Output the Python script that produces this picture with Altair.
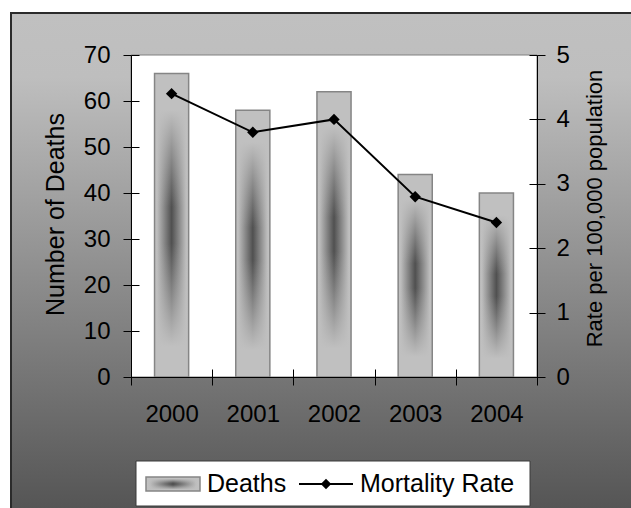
import altair as alt
import pandas as pd

# Values
years = ["2000", "2001", "2002", "2003", "2004"]
deaths = [66, 58, 62, 44, 40]
mortality_rate = [4.4, 3.8, 4.0, 2.8, 2.4]
legend_labels = ["Deaths", "Mortality Rate"]
death_ticks = [0, 10, 20, 30, 40, 50, 60, 70]
rate_ticks = [0, 1, 2, 3, 4, 5]

df = pd.DataFrame({"Year": years, "Deaths": deaths, "Rate": mortality_rate})
one = pd.DataFrame({"k": [0]})

W, H = 406, 322
FONT = "Liberation Sans"


def stops(pairs):
    return [alt.GradientStop(color=c, offset=o) for o, c in pairs]


# Grey page backdrop, light at the top and darker towards the bottom
page_fill = alt.LinearGradient(
    gradient="linear", x1=0, x2=0, y1=0, y2=1,
    stops=stops([(0, "#c0c0c0"), (0.13, "#bebebe"), (1, "#555555")]),
)
# Bar shading: dark core across the width, faded out towards top and bottom
bar_fill = alt.LinearGradient(
    gradient="linear", x1=0, x2=1, y1=0, y2=0,
    stops=stops([(0, "#c4c4c4"), (0.08, "#bcbcbc"), (0.5, "#505050"),
                 (0.92, "#bcbcbc"), (1, "#c4c4c4")]),
)
bar_shade = alt.LinearGradient(
    gradient="linear", x1=0, x2=0, y1=0, y2=1,
    stops=stops([(0, "rgba(192,192,192,1)"), (0.12, "rgba(192,192,192,1)"),
                 (0.44, "rgba(192,192,192,0)"), (0.56, "rgba(192,192,192,0)"),
                 (0.9, "rgba(192,192,192,1)"), (1, "rgba(192,192,192,1)")]),
)

backdrop = alt.Chart(one).mark_rect(
    fill=page_fill, stroke="#2b2b2b", strokeWidth=2
).encode(x=alt.value(-120), x2=alt.value(W + 140), y=alt.value(-42), y2=alt.value(H + 132))

panel = alt.Chart(one).mark_rect(
    fill="white", stroke="#808080", strokeWidth=1
).encode(x=alt.value(0), x2=alt.value(W), y=alt.value(0), y2=alt.value(H))

x_axis = alt.Axis(
    title=None, labelAngle=0, tickBand="extent", tickSize=8, labelFontSize=24,
    labelPadding=17, grid=True, gridColor="black", gridOpacity=1,
    gridDash=[0, H - 8, 8, 1000], orient="bottom", zindex=1,
)
left_axis = alt.Axis(
    values=death_ticks, orient="left", title="Number of Deaths",
    tickSize=8, labelFontSize=24, labelPadding=13,
    titleFontSize=25, titleFontWeight="normal", titleAngle=270,
    titleX=-76, titleY=159, titleBaseline="middle", titleAlign="center",
    grid=True, gridColor="black", gridOpacity=1, gridDash=[8, 1000], zindex=1,
)
right_axis = alt.Axis(
    values=rate_ticks, orient="right", title="Rate per 100,000 population",
    tickSize=8, labelFontSize=24, labelPadding=11,
    titleFontSize=22, titleFontWeight="normal", titleAngle=270,
    titleX=57, titleY=153, titleBaseline="middle", titleAlign="center",
    grid=True, gridColor="black", gridOpacity=1, gridDash=[8, 1000], zindex=1,
)

base = alt.Chart(df)
year_x = alt.X("Year:N", sort=years, scale=alt.Scale(paddingInner=0, paddingOuter=0), axis=x_axis)
death_scale = alt.Scale(domain=[0, 70], nice=False)

bars = base.mark_bar(fill=bar_fill, width=alt.RelativeBandSize(0.42)).encode(
    x=year_x,
    y=alt.Y("Deaths:Q", scale=death_scale, axis=left_axis),
)
bars_shade = base.mark_bar(
    fill=bar_shade, stroke="#858585", strokeWidth=1.5, width=alt.RelativeBandSize(0.42)
).encode(
    x=year_x,
    y=alt.Y("Deaths:Q", scale=death_scale, axis=None),
)

rate_line = base.mark_line(
    color="black", strokeWidth=2,
    point=alt.OverlayMarkDef(shape="diamond", filled=True, size=130, color="black", opacity=1),
).encode(
    x=year_x,
    y=alt.Y("Rate:Q", scale=alt.Scale(domain=[0, 5], nice=False), axis=right_axis),
)

# Legend
legend_box = alt.Chart(one).mark_rect(
    fill="white", stroke="#3a3a3a", strokeWidth=1
).encode(x=alt.value(5), x2=alt.value(399), y=alt.value(406), y2=alt.value(451))
key_swatch = alt.Chart(one).mark_rect(fill=bar_fill).encode(
    x=alt.value(15), x2=alt.value(69), y=alt.value(422), y2=alt.value(436))
key_swatch_shade = alt.Chart(one).mark_rect(
    fill=bar_shade, stroke="#858585", strokeWidth=1.5
).encode(x=alt.value(15), x2=alt.value(69), y=alt.value(422), y2=alt.value(436))
key_deaths = alt.Chart(one).mark_text(
    align="left", baseline="middle", fontSize=25, font=FONT, color="black"
).encode(x=alt.value(76), y=alt.value(429), text=alt.value(legend_labels[0]))
key_line = alt.Chart(one).mark_rule(color="black", strokeWidth=2).encode(
    x=alt.value(168), x2=alt.value(222), y=alt.value(429))
key_point = alt.Chart(one).mark_point(
    shape="diamond", filled=True, size=110, color="black", opacity=1
).encode(x=alt.value(195), y=alt.value(429))
key_rate = alt.Chart(one).mark_text(
    align="left", baseline="middle", fontSize=25, font=FONT, color="black"
).encode(x=alt.value(229), y=alt.value(429), text=alt.value(legend_labels[1]))

chart = alt.layer(
    backdrop, panel, bars, bars_shade, rate_line,
    legend_box, key_swatch, key_swatch_shade, key_deaths, key_line, key_point, key_rate,
).resolve_scale(y="independent").properties(
    width=W, height=H,
    padding={"left": 131, "top": 55, "right": 94, "bottom": 131},
    autosize=alt.AutoSizeParams(type="none"),
    background="white",
).configure_view(stroke=None).configure_axis(
    labelFont=FONT, titleFont=FONT, labelColor="black", titleColor="black",
    domainColor="black", tickColor="black", domainWidth=1, tickWidth=1,
)

chart.save("out.html", embed_options={"renderer": "svg", "actions": False})
